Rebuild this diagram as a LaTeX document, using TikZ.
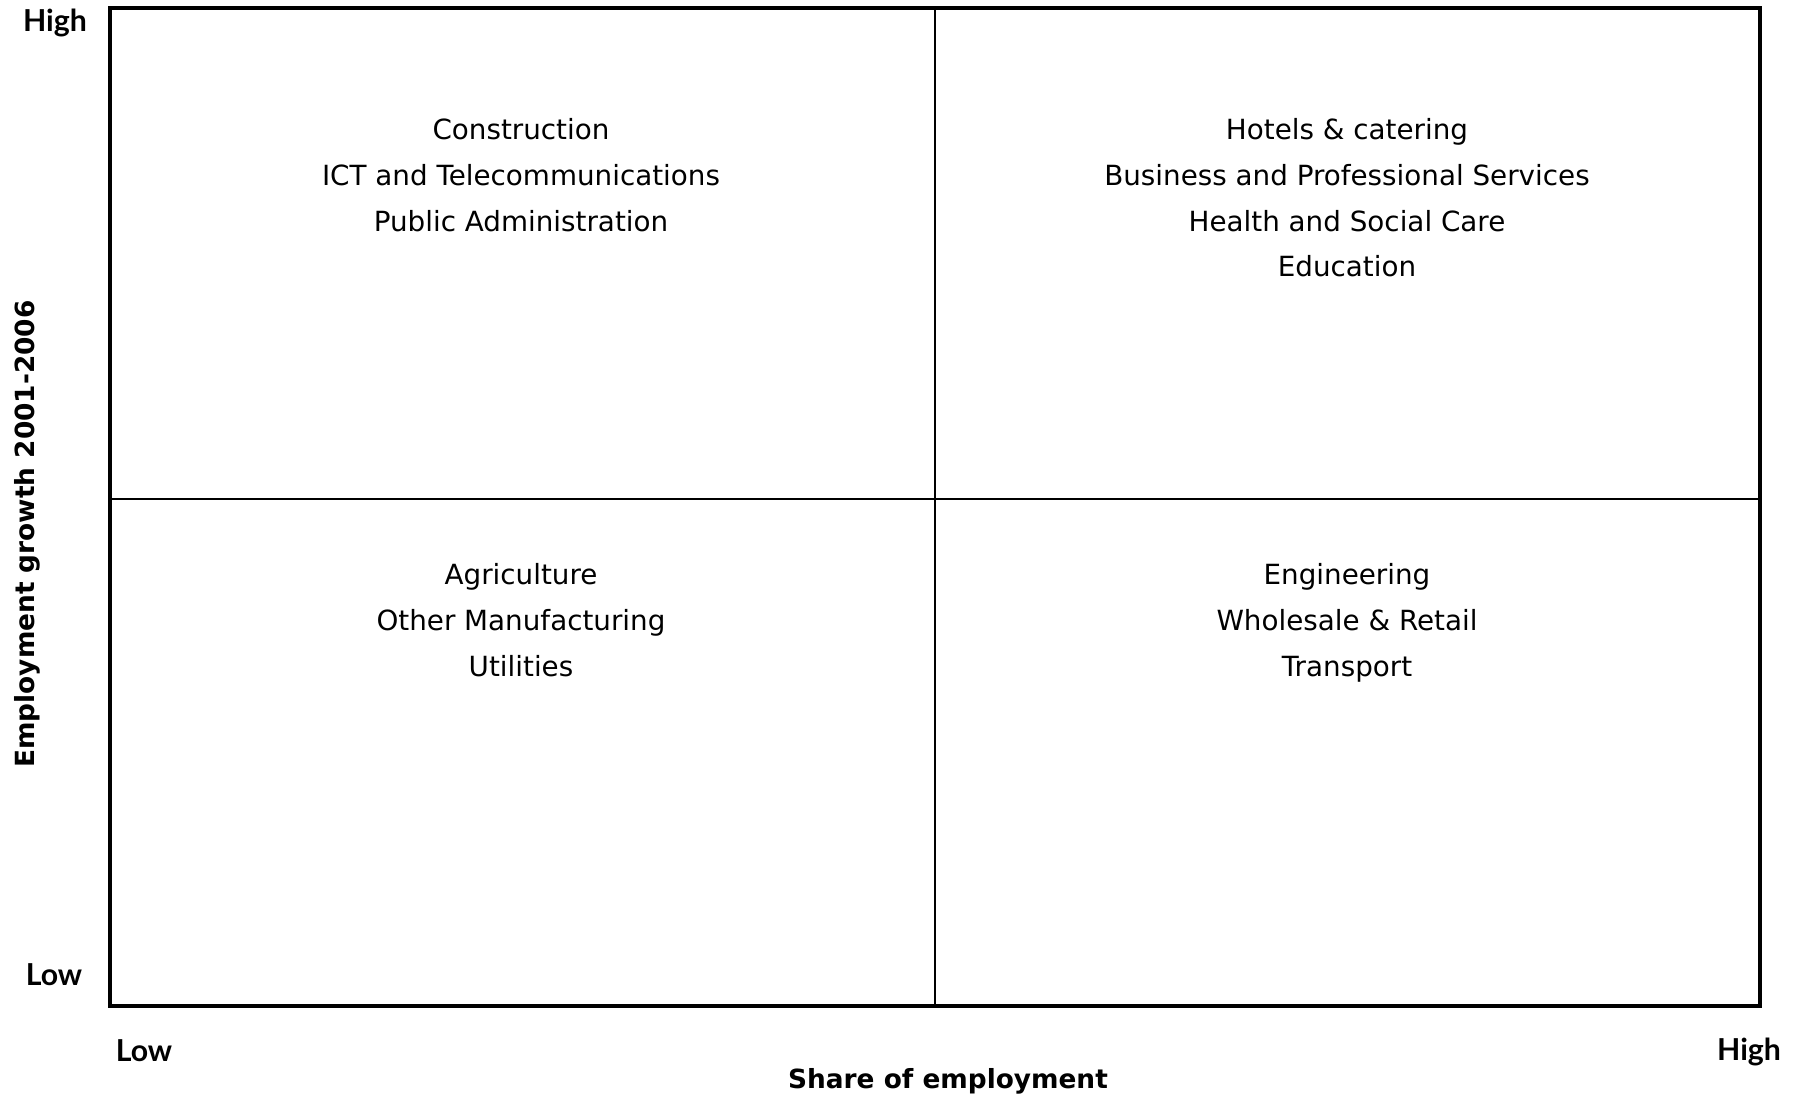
\documentclass[tikz,border=0pt]{standalone}
\usepackage{fontspec}
\setmainfont{DejaVu Sans}
\newfontfamily\lato{Lato}

\begin{document}
\begin{tikzpicture}[x=0.01cm, y=-0.01cm,
    sector/.style={align=center, font=\fontsize{7.9}{13}\selectfont},
    axistitle/.style={font=\bfseries\fontsize{7.5}{9}\selectfont},
    level/.style={font=\lato\bfseries\fontsize{8.6}{10}\selectfont}]
    \useasboundingbox (0,0) rectangle (1796,1099);

    \def\xl{110}
    \def\xm{935}
    \def\xr{1760}
    \def\yt{8}
    \def\ym{499}
    \def\yb{1006}

    \draw[line width=0.6pt] (\xm,\yt) -- (\xm,\yb);
    \draw[line width=0.6pt] (\xl,\ym) -- (\xr,\ym);
    \draw[line width=1.4pt] (\xl,\yt) rectangle (\xr,\yb);

    \node[sector] (growlow) at (521,175) {Construction\\ICT and Telecommunications\\Public Administration};
    \node[sector] (growhigh) at (1347,198) {Hotels \& catering\\Business and Professional Services\\Health and Social Care\\Education};
    \node[sector] (declow) at (521,620) {Agriculture\\Other Manufacturing\\Utilities};
    \node[sector] (dechigh) at (1347,623) {Engineering\\Wholesale \& Retail\\Transport};

    \node[level] (yhigh) at (55,23) {High};
    \node[level] (ylow) at (54,975) {Low};
    \node[level] (xlow) at (144,1051) {Low};
    \node[level] (xhigh) at (1749,1052) {High};

    \node[axistitle] (xtitle) at (948,1081) {Share of employment};
    \node[axistitle, rotate=90] (ytitle) at (27,534) {Employment growth 2001-2006};
\end{tikzpicture}
\end{document}
